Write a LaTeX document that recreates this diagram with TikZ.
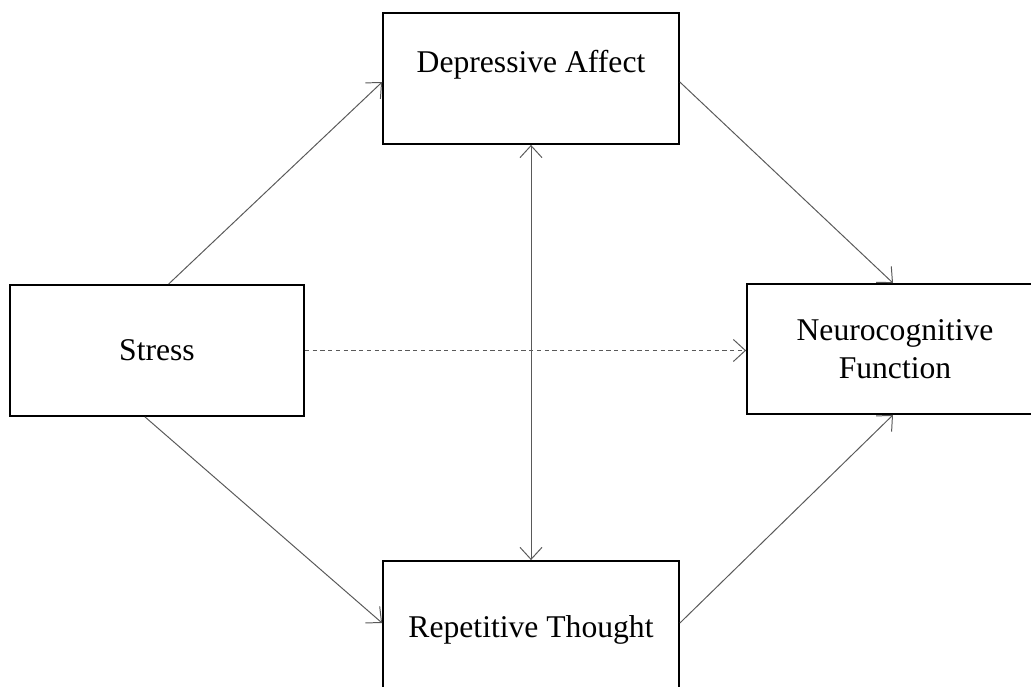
\documentclass[tikz,border=0pt]{standalone}
\usepackage{fontspec}
\setmainfont{Liberation Serif}
\usetikzlibrary{arrows.meta}
\tikzset{
    box/.style={draw=black, rectangle, line width=1.3pt, minimum width=7.4cm, minimum height=3.275cm, inner sep=2pt, align=center, font=\fontsize{22.5}{27}\selectfont},
    link/.style={->, line width=0.7pt, draw=black!65}
}

\begin{document}
\begin{tikzpicture}[
    >={Straight Barb[length=3mm, width=5.5mm]},
    dashlink/.style={link, dash pattern=on 3pt off 2.5pt}
]
\useasboundingbox (0,0) rectangle (25.775,17.175);
\clip (0,0) rectangle (25.775,17.175);

% Nodes
\node[box, text height=0.6cm, text depth=0.92cm] (da) at (13.275,15.2125) {Depressive Affect};
\node[box, minimum width=7.35cm] (stress) at (3.925,8.4125) {Stress};
\node[box, minimum height=3.25cm] (nf) at (22.375,8.45) {Neurocognitive\\Function};
\node[box, minimum height=3.44cm] (rt) at (13.275,1.43) {Repetitive Thought};

% Arcs (indirect paths)
\draw[link] ([xshift=0.29cm]stress.north) -- ([yshift=-0.09cm]da.west);
\draw[link] ([yshift=-0.09cm]da.east) -- ([xshift=-0.05cm]nf.north);
\draw[link] ([xshift=-0.3cm]stress.south) -- ([yshift=0.17cm]rt.west);
\draw[link] ([yshift=0.17cm]rt.east) -- ([xshift=-0.05cm]nf.south);

% Arc (direct path)
\draw[dashlink] (stress.east) -- (stress.east -| nf.west);

% Covariance
\draw[link, <->] (da.south) -- (rt.north);

\end{tikzpicture}
\end{document}
